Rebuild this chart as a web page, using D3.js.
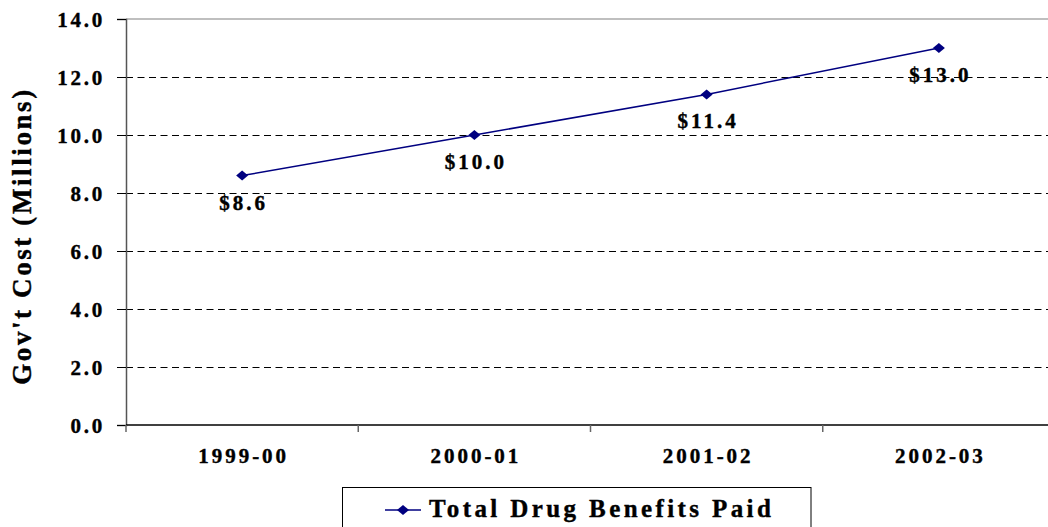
<!DOCTYPE html>
<html>
<head>
<meta charset="utf-8">
<script src="https://cdn.jsdelivr.net/npm/d3@7"></script>
<style>
  html, body { margin: 0; padding: 0; background: #fff; }
  svg { display: block; }
  text { font-family: "Liberation Serif", "Times New Roman", serif; font-weight: bold; fill: #000; stroke: #000; stroke-width: 0.4px; }
</style>
</head>
<body>
<svg id="chart" width="1048" height="527"></svg>
<script>
// Annual government cost of drug benefits, in millions of dollars
const categories = ["1999-00", "2000-01", "2001-02", "2002-03"];
const values = [8.6, 10.0, 11.4, 13.0];
const yTicks = [0, 2, 4, 6, 8, 10, 12, 14];
const seriesName = "Total Drug Benefits Paid";

const svg = d3.select("#chart");
const plotLeft = 126, plotRight = 1055, plotTop = 19, plotBottom = 425;

const x = d3.scaleBand().domain(categories).range([plotLeft, plotRight]).padding(0);
const y = d3.scaleLinear().domain([0, 14]).range([plotBottom, plotTop]);

// diamond marker, slightly wider than tall
const diamondPath = (cx, cy) => `M${cx - 6},${cy}L${cx},${cy - 5}L${cx + 6},${cy}L${cx},${cy + 5}Z`;

// horizontal dashed gridlines
svg.append("g").selectAll("line")
  .data(yTicks.filter(d => d > 0 && d < 14))
  .join("line")
  .attr("x1", plotLeft).attr("x2", plotRight)
  .attr("y1", d => y(d) + 0.5).attr("y2", d => y(d) + 0.5)
  .attr("stroke", "#000").attr("stroke-width", 1)
  .attr("stroke-dasharray", "7,4.5");

// top border of plot area
svg.append("line")
  .attr("x1", plotLeft).attr("x2", plotRight)
  .attr("y1", y(14)).attr("y2", y(14))
  .attr("stroke", "#808080").attr("stroke-width", 1.2);

// y axis
const yAxis = d3.axisLeft(y).tickValues(yTicks).tickFormat(d3.format(".1f"))
  .tickSize(9).tickPadding(12);
const gy = svg.append("g").attr("transform", `translate(${plotLeft},0)`).call(yAxis);
gy.select(".domain").attr("stroke", "#555").attr("stroke-width", 1.5);
gy.selectAll(".tick line").attr("stroke", "#000");
gy.selectAll(".tick text")
  .style("font-family", "'Liberation Serif', 'Times New Roman', serif")
  .style("font-size", "21px").style("letter-spacing", "2.75px")
  .attr("dy", "0.34em");

// x axis: ticks at category boundaries
const gx = svg.append("g");
gx.append("line").attr("x1", plotLeft).attr("x2", plotRight).attr("y1", plotBottom).attr("y2", plotBottom)
  .attr("stroke", "#000").attr("stroke-width", 1.5);
const boundaries = categories.map(c => x(c)).concat([x(categories[categories.length - 1]) + x.bandwidth()]);
gx.selectAll("line.tk").data(boundaries).join("line").attr("class", "tk")
  .attr("x1", d => d).attr("x2", d => d).attr("y1", plotBottom).attr("y2", plotBottom + 7)
  .attr("stroke", "#666").attr("stroke-width", 1.5);
gx.selectAll("text").data(categories).join("text")
  .attr("x", d => x(d) + x.bandwidth() / 2 + 1.5)
  .attr("y", 463)
  .attr("text-anchor", "middle")
  .style("font-size", "21px").style("letter-spacing", "3px")
  .text(d => d);

// y axis title
svg.append("text")
  .attr("transform", "translate(31,236) rotate(-90)")
  .attr("text-anchor", "middle")
  .style("font-size", "27px").style("letter-spacing", "2.6px")
  .text("Gov't Cost (Millions)");

const cx = d => x(d) + x.bandwidth() / 2;
const data = categories.map((c, i) => ({ c, v: values[i] }));

// series line
svg.append("path")
  .datum(data)
  .attr("fill", "none").attr("stroke", "#000080").attr("stroke-width", 1.5)
  .attr("d", d3.line().x(d => cx(d.c)).y(d => y(d.v)));

// diamond markers
svg.append("g").selectAll("path").data(data).join("path")
  .attr("d", d => diamondPath(cx(d.c), y(d.v))).attr("fill", "#000080");

// value labels below each point
svg.append("g").selectAll("text").data(data).join("text")
  .attr("x", d => cx(d.c) + 1.5)
  .attr("y", d => y(d.v) + 34)
  .attr("text-anchor", "middle")
  .style("font-size", "21px").style("letter-spacing", "3px")
  .text(d => "$" + d3.format(".1f")(d.v));

// legend
const lg = svg.append("g");
lg.append("rect").attr("x", 342.5).attr("y", 487.5).attr("width", 468.5).attr("height", 50)
  .attr("fill", "#fff").attr("stroke", "#000").attr("stroke-width", 1);
lg.append("line").attr("x1", 385).attr("x2", 421).attr("y1", 510).attr("y2", 510)
  .attr("stroke", "#000080").attr("stroke-width", 1.5);
lg.append("path").attr("d", diamondPath(403, 510)).attr("fill", "#000080");
lg.append("text").attr("x", 429).attr("y", 517)
  .style("font-size", "25px").style("letter-spacing", "3.4px")
  .text(seriesName);
</script>
</body>
</html>
